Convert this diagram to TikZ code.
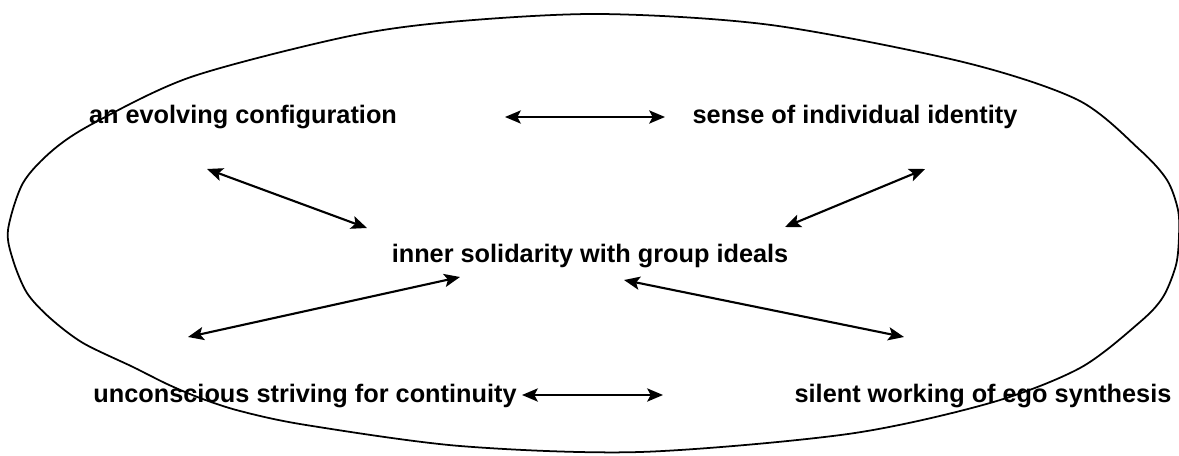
\documentclass[tikz,border=0pt]{standalone}
\usepackage{fontspec}
\setmainfont{Liberation Sans}
\usepackage{tikz}
\usetikzlibrary{arrows.meta}

\begin{document}
\begin{tikzpicture}[x=0.02cm,y=-0.02cm]
				\useasboundingbox (0,0) rectangle (1179,456);
				% the outer loop
				\draw [line width=1pt] plot [smooth cycle, tension=0.5] coordinates {
					(600,14) (771,25) (963,62) (1078,100) (1140,150) (1167,180) (1178,210) (1179,236)
					(1176,265) (1163,297) (1140,322) (1080,368) (990,403) (848,434) (640,452) (460,446)
					(306,425) (240,411) (200,398) (167,384) (133,367) (83,343) (50,318) (27,293)
					(13,260) (8,230) (23,183) (53,150) (94,123) (191,77) (345,37) (450,22)};
				
				\begin{scope}[every node/.style={anchor=base,inner sep=0pt,font=\fontsize{14.4}{17}\selectfont\bfseries}]
					\node (E) at (243,123) {an evolving configuration};
					\node (I) at (855,123) {sense of individual identity};
					\node (S) at (590,262) {inner solidarity with group ideals};
					\node (U) at (305,402) {unconscious striving for continuity};
					\node (G) at (983,402) {silent working of ego synthesis};
				\end{scope}
				
				\begin{scope}[>={Stealth[length=9pt,width=7.5pt,inset=2pt]},
					every edge/.style={draw,line width=1.2pt}]
					\coordinate (EI1) at (505,117);
					\coordinate (EI2) at (665,117);
					\coordinate (ES1) at (207,169);
					\coordinate (ES2) at (367,228);
					\coordinate (IS1) at (925,169);
					\coordinate (IS2) at (785,227);
					\coordinate (US1) at (188,337);
					\coordinate (US2) at (460,277);
					\coordinate (GS1) at (904,337);
					\coordinate (GS2) at (624,280);
					\coordinate (UG1) at (522,395);
					\coordinate (UG2) at (663,395);
					
					\path [<->] (EI1) edge (EI2);%E-I%
					\path [<->] (ES1) edge (ES2);%E-S%
					\path [<->] (IS1) edge (IS2);%I-S%
					\path [<->] (US1) edge (US2);%U-S%
					\path [<->] (GS1) edge (GS2);%G-S%
					\path [<->] (UG1) edge (UG2);%U-G%
				\end{scope}
\end{tikzpicture}
\end{document}
